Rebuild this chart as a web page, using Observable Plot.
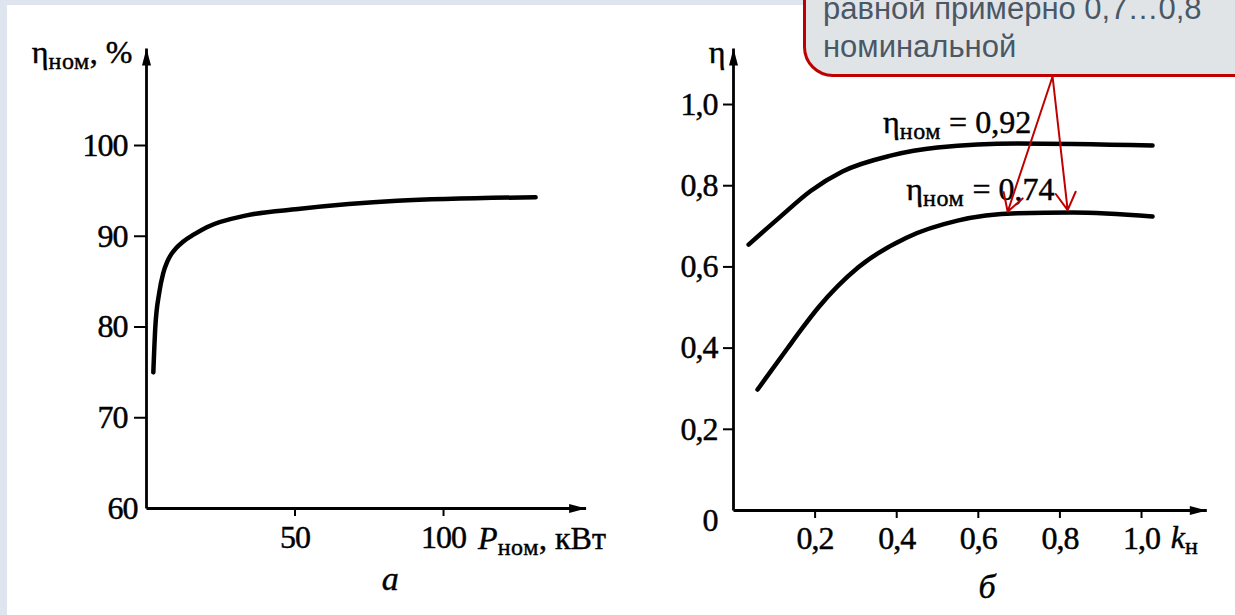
<!DOCTYPE html>
<html>
<head>
<meta charset="utf-8">
<script src="https://cdn.jsdelivr.net/npm/d3@7"></script>
<script src="https://cdn.jsdelivr.net/npm/@observablehq/plot@0.6"></script>
<style>
html, body { margin: 0; padding: 0; width: 1235px; height: 615px; overflow: hidden; background: #dfe5ee; }
#paper { position: absolute; left: 7px; top: 5px; right: 0; bottom: 0; background: #ffffff; }
#pa { position: absolute; left: 0; top: 0; }
#pb { position: absolute; left: 620px; top: 0; }
#callout { position: absolute; left: 803px; top: -60px; width: 520px; height: 131px; border: 3px solid #c00000; border-radius: 30px; background: #e1e4e7; }
#callout-text { position: absolute; left: 823px; top: -10px; font-family: "Liberation Sans", Arial, sans-serif; font-size: 31px; line-height: 38px; color: #4a5866; white-space: nowrap; }
svg text { white-space: pre; stroke: black; stroke-width: 0.45px; }
svg g[aria-label$="tick label"] text { letter-spacing: -1px; }
svg tspan.sub { letter-spacing: 0.6px; }
</style>
</head>
<body>
<div id="paper"></div>
<div id="pa"></div>
<div id="pb"></div>
<div id="callout"></div>
<div id="callout-text">равной примерно 0,7…0,8<br>номинальной</div>
<script>
// ---------- Panel а: η_ном vs P_ном ----------
const xTicksA = [50, 100];
const yTicksA = [70, 80, 90, 100];
const yOriginA = [60];
const xExtentA = [0, 148];
const yExtentA = [60, 110.7];
const pNom   = [2.3, 2.95, 4.3, 5.6, 7, 8.3, 10, 12.3, 16, 20.3, 33.7, 51, 84.4, 131];
const etaNom = [75.0, 79.9, 83.8, 85.9, 87.2, 88.0, 88.7, 89.4, 90.2, 91.0, 92.3, 93.0, 93.9, 94.3];
const axisLabelsA = ["η_ном, %", "P_ном, кВт"];

// ---------- Panel б: η vs k_н ----------
const xTicksB = [0.2, 0.4, 0.6, 0.8, 1.0];
const yTicksB = [0.2, 0.4, 0.6, 0.8, 1.0];
const yOriginB = [0];
const xExtentB = [0, 1.16];
const yExtentB = [0, 1.138];
const kUpper   = [0.037, 0.113, 0.189, 0.267, 0.385, 0.5, 0.696, 1.027];
const etaUpper = [0.655, 0.722, 0.787, 0.835, 0.874, 0.894, 0.904, 0.899];
const kLower   = [0.059, 0.132, 0.164, 0.208, 0.306, 0.424, 0.549, 0.696, 0.831, 1.027];
const etaLower = [0.298, 0.399, 0.443, 0.500, 0.599, 0.672, 0.714, 0.732, 0.734, 0.724];
const curveLabels = ["η_ном = 0,92", "η_ном = 0,74"];
const labelK   = [0.548, 0.605];
const labelEta = [0.929, 0.764];
const axisLabelsB = ["η", "k_н"];
const calloutFrom = [0.782, 1.069];
const arrowTipK   = [0.672, 0.819];
const arrowTipEta = [0.736, 0.740];
const captions = ["а", "б"];

// ---------- helpers ----------
const serif = '"Liberation Serif","Times New Roman",serif';
const comma = d => d3.format(".1f")(d).replace(".", ",");
const upHead = {draw(ctx) { ctx.moveTo(0, 0); ctx.lineTo(4.5, 17); ctx.lineTo(-4.5, 17); ctx.closePath(); }};
const rightHead = {draw(ctx) { ctx.moveTo(0, 0); ctx.lineTo(-17, 4.5); ctx.lineTo(-17, -4.5); ctx.closePath(); }};
const style = {background: "transparent", fontFamily: serif, fontSize: "32px", overflow: "visible", color: "black"};

function axesOf(xe, ye) {
  return [
    {x1: xe[0], y1: ye[0], x2: xe[1], y2: ye[0]},
    {x1: xe[0], y1: ye[0], x2: xe[0], y2: ye[1]}
  ];
}

function subscripts(svg) {
  const ns = "http://www.w3.org/2000/svg";
  svg.querySelectorAll("text").forEach(t => {
    const s = t.textContent;
    if (!s.includes("_")) return;
    const m = s.match(/^(.*?)_([^\s,]+)(.*)$/);
    if (!m) return;
    const [, pre, sub, rest] = m;
    while (t.firstChild) t.removeChild(t.firstChild);
    const a = document.createElementNS(ns, "tspan");
    a.textContent = pre;
    if (/^[A-Za-z]$/.test(pre)) a.setAttribute("font-style", "italic");
    const b = document.createElementNS(ns, "tspan");
    b.textContent = sub;
    b.setAttribute("class", "sub");
    b.setAttribute("font-size", "24");
    b.setAttribute("dy", "6");
    t.append(a, b);
    if (rest) {
      const c = document.createElementNS(ns, "tspan");
      c.textContent = rest;
      c.setAttribute("dy", "-6");
      t.append(c);
    }
  });
}

// ---------- Plot а ----------
const curveA = pNom.map((p, i) => ({p, eta: etaNom[i]}));
const plotA = Plot.plot({
  width: 620, height: 615,
  marginLeft: 146, marginRight: 34.4, marginTop: 47.9, marginBottom: 107,
  x: {domain: xExtentA},
  y: {domain: yExtentA},
  style,
  marks: [
    Plot.link(axesOf(xExtentA, yExtentA), {x1: "x1", y1: "y1", x2: "x2", y2: "y2", stroke: "black", strokeWidth: 2.8}),
    Plot.dot([0], {x: xExtentA[1], y: yExtentA[0], symbol: rightHead, fill: "black", stroke: "none"}),
    Plot.dot([0], {x: xExtentA[0], y: yExtentA[1], symbol: upHead, fill: "black", stroke: "none"}),
    Plot.axisX({ticks: xTicksA, tickSize: 8, tickPadding: 9, strokeWidth: 2, tickFormat: d => String(d), label: null}),
    Plot.axisY({ticks: yTicksA, tickSize: 12, tickPadding: 7, strokeWidth: 2, tickFormat: d => String(d), label: null}),
    Plot.axisY({ticks: yOriginA, tickSize: 0, tickPadding: 9, tickFormat: d => String(d), label: null}),
    Plot.line(curveA, {x: "p", y: "eta", curve: "monotone-x", stroke: "black", strokeWidth: 4.5, strokeLinecap: "round"}),
    Plot.text([axisLabelsA[0]], {text: d => d, x: xExtentA[0], y: yExtentA[1], textAnchor: "end", lineAnchor: "bottom", dx: -14, dy: 15}),
    Plot.text([axisLabelsA[1]], {text: d => d, x: xExtentA[1], y: yExtentA[0], textAnchor: "start", lineAnchor: "bottom", dx: -108, dy: 40}),
    Plot.text([captions[0]], {text: d => d, frameAnchor: "bottom", lineAnchor: "bottom", dx: 24, dy: 81, fontStyle: "italic", fontSize: 34})
  ]
});
subscripts(plotA);
document.getElementById("pa").append(plotA);

// ---------- Plot б ----------
const upper = kUpper.map((k, i) => ({k, eta: etaUpper[i]}));
const lower = kLower.map((k, i) => ({k, eta: etaLower[i]}));
const labels = curveLabels.map((t, i) => ({t, k: labelK[i], eta: labelEta[i]}));
const arrows = arrowTipK.map((k, i) => ({x1: calloutFrom[0], y1: calloutFrom[1], x2: k, y2: arrowTipEta[i]}));
const plotB = Plot.plot({
  width: 615, height: 615,
  marginLeft: 113, marginRight: 28.7, marginTop: 48, marginBottom: 105,
  x: {domain: xExtentB},
  y: {domain: yExtentB},
  style,
  marks: [
    Plot.link(axesOf(xExtentB, yExtentB), {x1: "x1", y1: "y1", x2: "x2", y2: "y2", stroke: "black", strokeWidth: 2.8}),
    Plot.dot([0], {x: xExtentB[1], y: yExtentB[0], symbol: rightHead, fill: "black", stroke: "none"}),
    Plot.dot([0], {x: xExtentB[0], y: yExtentB[1], symbol: upHead, fill: "black", stroke: "none"}),
    Plot.axisX({ticks: xTicksB, tickSize: 8, tickPadding: 8, strokeWidth: 2, tickFormat: comma, label: null}),
    Plot.axisY({ticks: yTicksB, tickSize: 10, tickPadding: 6, strokeWidth: 2, tickFormat: comma, label: null}),
    Plot.axisY({ticks: yOriginB, tickSize: 0, tickPadding: 16, dy: 10, tickFormat: d => String(d), label: null}),
    Plot.line(upper, {x: "k", y: "eta", curve: "monotone-x", stroke: "black", strokeWidth: 4.5, strokeLinecap: "round"}),
    Plot.line(lower, {x: "k", y: "eta", curve: "monotone-x", stroke: "black", strokeWidth: 4.5, strokeLinecap: "round"}),
    Plot.text(labels, {x: "k", y: "eta", text: "t", textAnchor: "middle", lineAnchor: "bottom"}),
    Plot.text([axisLabelsB[0]], {text: d => d, x: xExtentB[0], y: yExtentB[1], textAnchor: "end", lineAnchor: "bottom", dx: -8, dy: 14}),
    Plot.text([axisLabelsB[1]], {text: d => d, x: xExtentB[1], y: yExtentB[0], textAnchor: "start", lineAnchor: "bottom", dx: -36, dy: 37}),
    Plot.text([captions[1]], {text: d => d, frameAnchor: "bottom", lineAnchor: "bottom", dx: 17, dy: 87, fontStyle: "italic", fontSize: 34}),
    Plot.arrow(arrows, {x1: "x1", y1: "y1", x2: "x2", y2: "y2", stroke: "#c00000", strokeWidth: 2, headLength: 15, headAngle: 60})
  ]
});
subscripts(plotB);
document.getElementById("pb").append(plotB);
</script>
</body>
</html>
